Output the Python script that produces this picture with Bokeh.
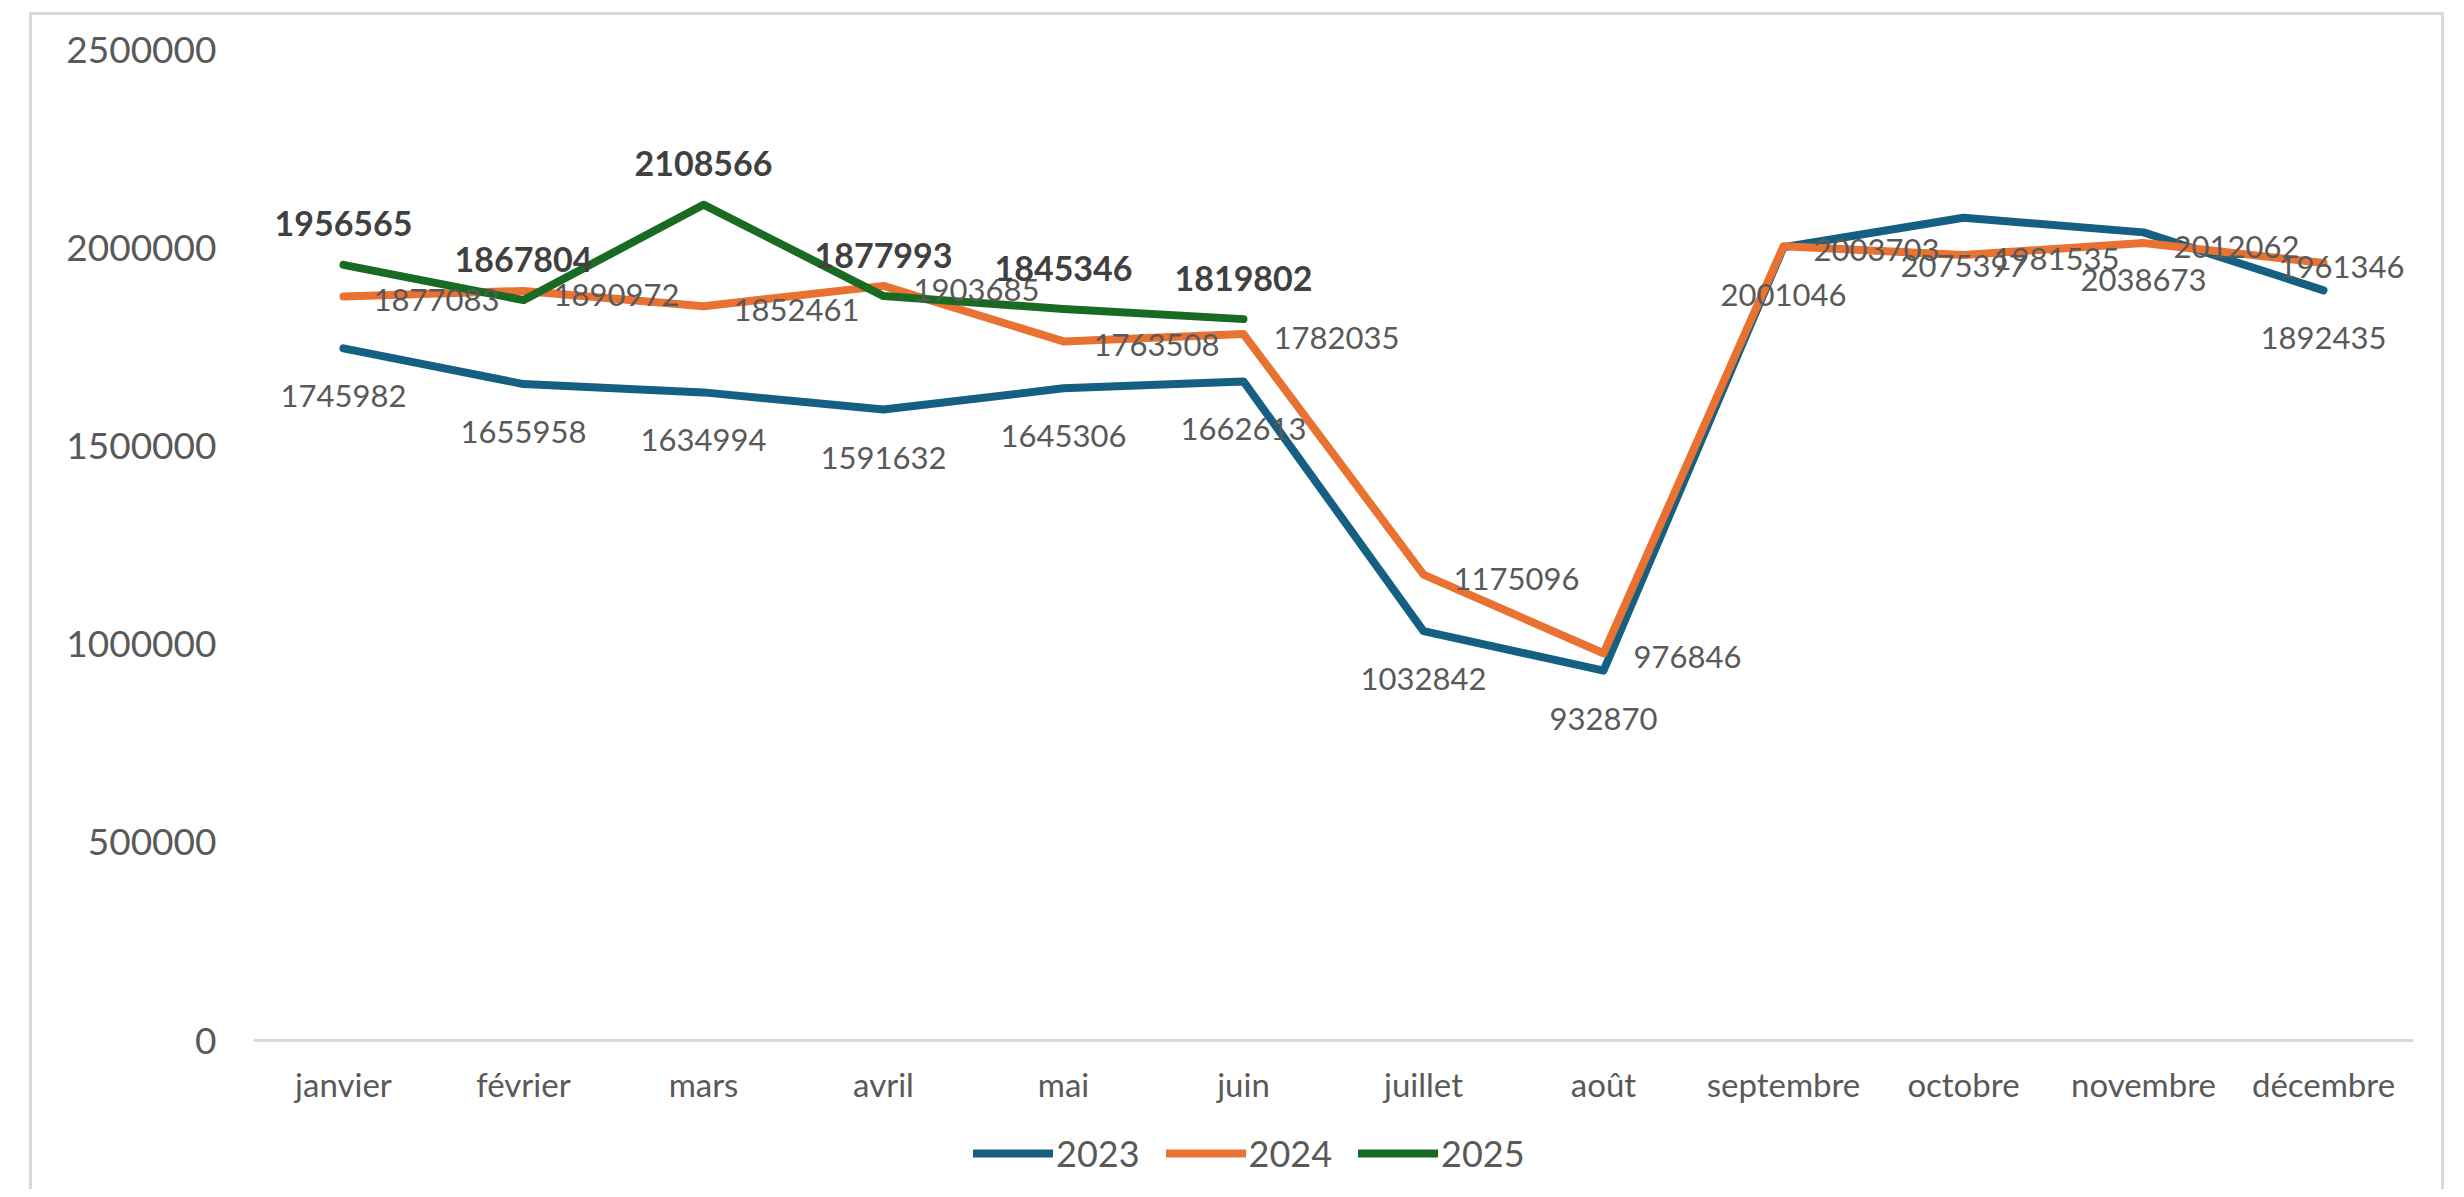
from bokeh.plotting import figure
from bokeh.models import FactorRange, FixedTicker, BasicTickFormatter, ColumnDataSource, Legend, LegendItem
from bokeh.core.properties import value
from bokeh.embed import file_html
from bokeh.resources import INLINE

months = ["janvier", "février", "mars", "avril", "mai", "juin", "juillet",
          "août", "septembre", "octobre", "novembre", "décembre"]
v2023 = [1745982, 1655958, 1634994, 1591632, 1645306, 1662613, 1032842,
         932870, 2001046, 2075397, 2038673, 1892435]
v2024 = [1877083, 1890972, 1852461, 1903685, 1763508, 1782035, 1175096,
         976846, 2003703, 1981535, 2012062, 1961346]
v2025 = [1956565, 1867804, 2108566, 1877993, 1845346, 1819802]
y_ticks = [0, 500000, 1000000, 1500000, 2000000, 2500000]

C23, C24, C25 = "#156082", "#E97132", "#196B24"
FONT = "Lato"

# geometry: frame spans 1143 px vertically; 2 500 000 covers 991 px above the zero line,
# the remaining 152 px below zero hold the month labels and the legend
Y_TOP = 2500000
PX_PER_UNIT = 991 / Y_TOP
Y_BOTTOM = -152 / PX_PER_UNIT

p = figure(x_range=FactorRange(factors=months, range_padding=0),
           y_range=(Y_BOTTOM, Y_TOP),
           width=2415, height=1177, output_backend="svg", toolbar_location=None,
           min_border_left=221, min_border_right=34, min_border_top=34, min_border_bottom=0)
p.margin = (12, 0, 0, 29)
p.styles = {"border-left": "3px solid #d9d9d9", "border-top": "3px solid #d9d9d9",
            "border-right": "3px solid #d9d9d9"}
p.outline_line_color = None
p.xgrid.grid_line_color = None
p.ygrid.grid_line_color = None
p.background_fill_color = "white"
p.border_fill_color = "white"

# y axis
p.yaxis.ticker = FixedTicker(ticks=y_ticks)
p.yaxis.formatter = BasicTickFormatter(use_scientific=False)
p.yaxis.axis_line_color = None
p.yaxis.major_tick_line_color = None
p.yaxis.minor_tick_line_color = None
p.yaxis.major_label_text_font = FONT
p.yaxis.major_label_text_font_size = "37px"
p.yaxis.major_label_text_color = "#595959"
p.yaxis.major_label_standoff = 31

# x axis drawn at y = 0
p.xaxis.fixed_location = 0
p.xaxis.axis_line_color = "#d9d9d9"
p.xaxis.axis_line_width = 3
p.xaxis.major_tick_line_color = None
p.xaxis.minor_tick_line_color = None
p.xaxis.major_label_text_font = FONT
p.xaxis.major_label_text_font_size = "33px"
p.xaxis.major_label_text_color = "#595959"
p.xaxis.major_label_standoff = 17

s23 = ColumnDataSource(dict(x=months, y=v2023, t=[str(v) for v in v2023]))
# label offsets for 2024: right of point, last one pulled left to stay inside
off24 = [30] * len(v2024)
off24[-1] = -45
s24 = ColumnDataSource(dict(x=months, y=v2024, t=[str(v) for v in v2024], dx=off24))
s25 = ColumnDataSource(dict(x=months[:len(v2025)], y=v2025, t=[str(v) for v in v2025]))

r23 = p.line("x", "y", source=s23, line_color=C23, line_width=8, line_join="round", line_cap="round")
r24 = p.line("x", "y", source=s24, line_color=C24, line_width=8, line_join="round", line_cap="round")
r25 = p.line("x", "y", source=s25, line_color=C25, line_width=8, line_join="round", line_cap="round")

p.text("x", "y", text="t", source=s23, text_font=value(FONT), text_font_size="31px",
       text_color="#595959", text_align="center", text_baseline="middle", y_offset=48)
p.text("x", "y", text="t", source=s24, text_font=value(FONT), text_font_size="31px",
       text_color="#595959", text_align="left", text_baseline="middle", x_offset="dx", y_offset=4)
p.text("x", "y", text="t", source=s25, text_font=value(FONT), text_font_size="34px",
       text_font_style="bold", text_color="#404040", text_align="center",
       text_baseline="middle", y_offset=-41)

legend = Legend(items=[LegendItem(label="2023", renderers=[r23]),
                       LegendItem(label="2024", renderers=[r24]),
                       LegendItem(label="2025", renderers=[r25])],
                orientation="horizontal", location=(720, 17),
                glyph_width=80, glyph_height=40, label_height=40, label_standoff=3,
                spacing=26, padding=0, margin=0,
                label_text_font=FONT, label_text_font_size="36px", label_text_color="#595959",
                border_line_color=None, background_fill_alpha=0)
p.add_layout(legend, "center")

open("out.html", "w").write(file_html(p, INLINE))
